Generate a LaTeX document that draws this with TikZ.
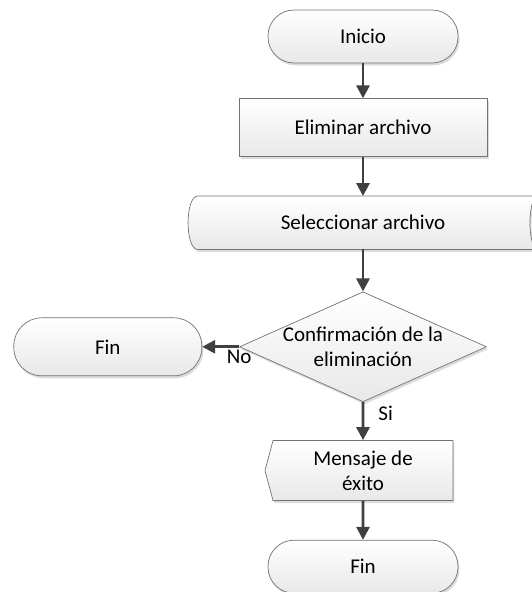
\documentclass[tikz,border=0pt]{standalone}
\usepackage{fontspec}
\setmainfont{Carlito}
\usetikzlibrary{arrows.meta, positioning, shapes.geometric, shapes.symbols, shadows, backgrounds}

\begin{document}
\begin{tikzpicture}[
  x=1pt, y=-1pt,
  node distance=38pt and 37pt,
  box/.style={draw=black!55, line width=0.7pt, top color=white, bottom color=black!9,
    drop shadow={shadow xshift=1.5pt, shadow yshift=-2.5pt, fill=black!30, opacity=0.45}},
  term/.style={box, rectangle, rounded corners=26pt, minimum width=190pt, minimum height=53pt},
  proc/.style={box, rectangle, minimum width=248pt, minimum height=58pt},
  decide/.style={box, diamond, aspect=2.25, inner sep=-8pt, minimum width=247pt, minimum height=110pt, align=center},
  shown/.style={box, signal, signal to=west, signal pointer angle=150, minimum width=188pt, minimum height=60pt, align=center},
  arr/.style={-{Triangle[length=13pt, width=13pt]}, line width=2.8pt, draw=black!75},
  lbl/.style={inner sep=2pt},
  font=\fontsize{21}{25}\selectfont
]
\useasboundingbox (0,0) rectangle (531,592);

\node[term] (inicio) at (363,36.5) {Inicio};
\node[proc, below=35pt of inicio] (elim) {Eliminar archivo};
\node[rectangle, minimum width=350pt, minimum height=53pt, below=39pt of elim] (sel) {Seleccionar archivo};
\node[decide, below=42pt of sel] (conf) {Confirmación de la\\eliminación};
\node[term, minimum width=188pt, minimum height=58pt, rounded corners=28pt, left=37pt of conf] (fin1) {Fin};
\node[shown, below=38pt of conf] (msg) {Mensaje de\\éxito};
\node[term, below=39pt of msg] (fin2) {Fin};

% stored data outline behind the text
\begin{scope}[on background layer]
\draw[box] ([xshift=10pt]sel.north west) -- (sel.north east)
  .. controls ([xshift=-11pt]sel.north east) and ([xshift=-11pt]sel.south east) .. (sel.south east)
  -- ([xshift=10pt]sel.south west)
  .. controls ([xshift=-3pt]sel.south west) and ([xshift=-3pt]sel.north west) .. cycle;
\end{scope}

\draw[arr] (inicio) -- (elim);
\draw[arr] (elim) -- (sel);
\draw[arr] (sel) -- (conf);
\draw[arr] (conf) -- node[lbl, pos=0, below] {No} (fin1);
\draw[arr] (conf) -- node[lbl, pos=0, below right, xshift=12pt] {Si} (msg);
\draw[arr] (msg) -- (fin2);
\end{tikzpicture}
\end{document}
